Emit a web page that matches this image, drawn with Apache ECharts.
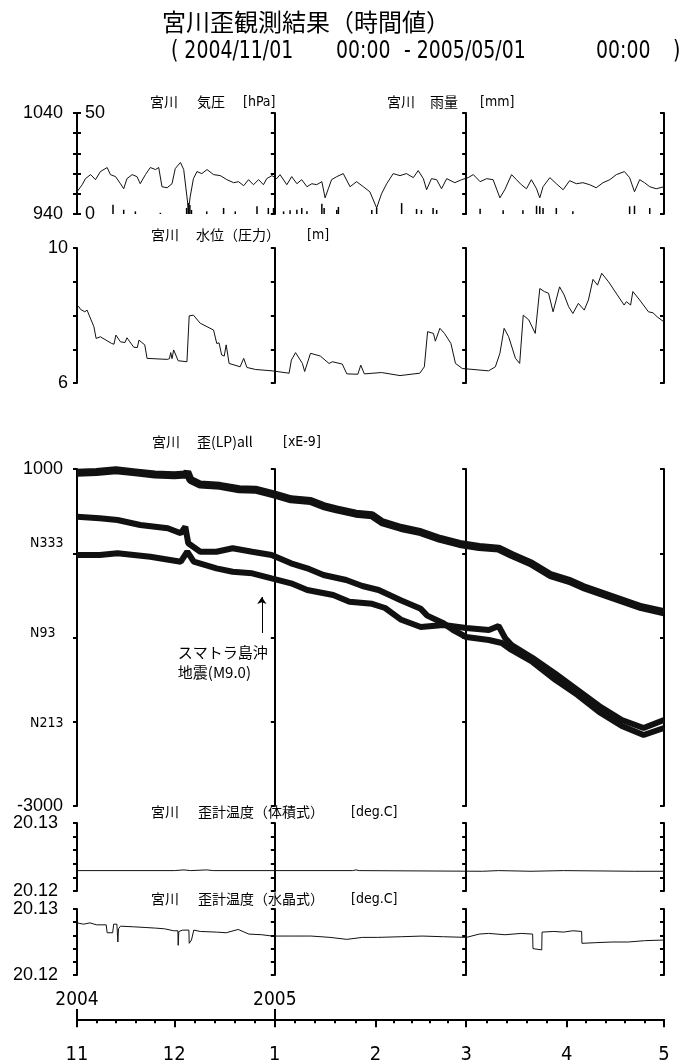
<!DOCTYPE html>
<html>
<head>
<meta charset="utf-8">
<script src="https://cdn.jsdelivr.net/npm/echarts@6/dist/echarts.min.js"></script>
<style>
  html, body { margin: 0; padding: 0; background: #fff; }
  #main { width: 697px; height: 1063px; }
</style>
</head>
<body>
<div id="main"></div>
<script>
// 日数は 2004/11/01 00:00 からの経過日
var pressure = [[0,962],[1.6,969],[2.6,975],[4.2,979],[5.7,974],[7.2,982],[9.3,986],[10.3,979],[11.9,977],[13.4,970],[14.4,965],[15.4,975],[17,979],[18.5,977],[19.5,970],[21.1,979],[22.6,986],[24.2,984],[25.2,986],[26.2,967],[27.8,966],[29.3,970],[30.3,985],[31.9,991],[32.9,984],[33.9,957],[34.4,944],[34.9,957],[35.9,975],[37,982],[38.5,980],[40.1,984],[42.1,979],[44.2,978],[46.2,974],[48.3,971],[49.8,972],[51.4,968],[52.9,974],[54.4,969],[56,974],[57.5,969],[58.5,975],[60.1,978],[61.6,975],[62.6,979],[64.7,969],[66.2,977],[67.8,970],[69.3,974],[70.9,967],[72.4,970],[73.9,969],[75.5,972],[76.5,956],[77.5,965],[78.5,974],[80.1,977],[82.1,980],[84.2,967],[86.2,972],[88.3,967],[90.3,962],[92.4,946],[93.9,960],[95.5,970],[97.5,980],[99.6,978],[101.6,980],[103.7,976],[105.2,983],[106.8,975],[107.8,964],[109.3,975],[110.9,974],[112.4,965],[114,975],[116.5,971],[118.6,974],[120.6,976],[122.2,979],[124.3,972],[126.3,975],[128.3,974],[130.4,956],[131.9,964],[134,979],[135.5,974],[137,969],[138.6,965],[140.1,974],[141.7,965],[142.7,956],[143.7,967],[145.8,976],[147.8,970],[149.9,964],[151.9,973],[154,970],[156,971],[158.1,969],[160.1,966],[162.2,971],[164.3,974],[166.3,979],[168.8,982],[170.4,976],[171.9,962],[173.5,974],[175,971],[176.6,967],[178.6,965],[181,967]];

var rainfall = [[11.1,4.6],[14.4,2.1],[18,1.3],[25.7,0.6],[33.8,3],[34.3,5.5],[34.8,4.5],[35.3,2],[40,1.3],[45.2,3],[48.8,1.3],[55.5,3.8],[59,3],[60.6,3],[63.7,1.3],[65.7,1.8],[67.8,2.1],[69.3,3],[70.9,1.3],[75.5,5.1],[76.2,3],[80.1,2],[80.6,3.5],[90.9,2],[92.4,3],[100.1,5.4],[104.7,2.5],[106.2,2],[109.8,3],[110.9,2],[124.3,2.6],[131.4,1.8],[137.5,1.8],[141.7,4.1],[142.7,3.8],[143.7,3],[147.8,3],[152.9,1.3],[170.4,3.8],[171.9,4.1],[176.6,3]];

var waterLevel = [[0.4,8.28],[1.1,8.18],[2.4,8.11],[3.1,8.16],[5.2,7.67],[5.9,7.32],[7.2,7.37],[10.7,7.17],[11.4,7.15],[12,7.42],[13.4,7.22],[14.8,7.2],[15.4,7.34],[17.5,7.06],[18.6,7.05],[19.1,7.27],[20.9,7.13],[21.6,6.73],[27.8,6.70],[28.5,6.72],[28.9,6.90],[29.3,6.72],[29.8,6.98],[31.2,6.66],[33.9,6.63],[34.6,7.99],[35.9,8.01],[38,7.77],[42.1,7.57],[43.1,7.17],[43.8,7.19],[44.6,6.83],[45.4,6.8],[46,7.13],[46.9,6.58],[50.3,6.48],[51.4,6.73],[52.4,6.46],[55.1,6.40],[60.2,6.36],[65.4,6.29],[66.1,6.68],[67.4,6.90],[69.5,6.58],[70.2,6.34],[72,6.88],[75,6.80],[77.7,6.58],[78.8,6.63],[81.8,6.56],[83.2,6.27],[86.6,6.26],[87.5,6.53],[88.6,6.27],[93.9,6.31],[94.4,6.27],[99.6,6.22],[105.7,6.29],[107.1,6.48],[108.1,7.52],[109.9,7.47],[110.5,7.24],[111.9,7.62],[113.3,7.47],[115.3,7.17],[116.7,6.58],[118.8,6.43],[126.9,6.36],[129,6.48],[130.4,6.88],[131.7,7.62],[133.1,7.37],[135.2,6.73],[136.5,6.58],[137.6,8.01],[139.3,7.87],[141.3,7.47],[142.7,8.80],[144.1,8.71],[145.4,8.66],[146.8,8.11],[148.8,8.85],[150.2,8.61],[151.6,8.26],[152.9,8.06],[154.6,8.36],[156.4,8.16],[157.7,8.46],[159.1,9.07],[160.5,8.90],[161.8,9.25],[163.9,9.00],[166.6,8.61],[168.7,8.31],[169.4,8.41],[170.7,8.31],[171.4,8.71],[173.5,8.46],[176.2,8.11],[177.6,8.08],[178.9,7.96],[181,7.81]];

// 歪 3成分
var strainA = [[0,955],[6,965],[12,985],[18,960],[24,935],[30,925],[33.5,935],[34,965],[35,870],[38,815],[44,800],[50,760],[55,755],[61,695],[66,640],[72,620],[76,560],[80,520],[86,470],[91,450],[94,370],[100,300],[106,250],[112,170],[118,110],[124,75],[130,55],[134,-20],[140,-120],[146,-260],[152,-330],[156,-400],[162,-480],[168,-560],[174,-640],[181,-700]];
var strainB = [[0,434],[7,415],[12.5,395],[19.5,335],[28,296],[32,237],[33.4,315],[34.3,118],[38,18],[43,18],[48,59],[54,18],[60,-21],[66,-120],[71,-179],[76,-258],[83,-318],[88,-389],[93,-436],[100,-560],[106,-660],[108,-740],[113,-830],[116,-911],[120,-994],[127,-1030],[131,-1065],[134,-1148],[140.5,-1291],[147.6,-1505],[154.4,-1683],[161,-1884],[168,-2051],[174.7,-2157],[181,-2074]];
var strainC = [[0,-21],[7,-21],[12.5,0],[22.6,-41],[32,-100],[34,18],[36,-100],[43,-179],[48,-219],[54,-238],[60,-298],[66,-357],[71,-436],[79,-496],[84,-575],[91,-600],[95,-650],[100,-790],[106,-875],[113,-852],[120,-887],[127,-911],[130,-864],[132,-1006],[134,-1089],[140.5,-1243],[147.6,-1433],[154.4,-1624],[161,-1813],[168,-1979],[174.7,-2074],[181,-1979]];

var tempVolume = [[0,20.1230],[30,20.1230],[33,20.1231],[35,20.1230],[40,20.1231],[42,20.1230],[85,20.1230],[86,20.1231],[87,20.1230],[125,20.1229],[130,20.1230],[140,20.1229],[150,20.1230],[172,20.1229],[181,20.1229]];
var tempQuartz = [[0,20.1279],[2,20.1277],[4,20.1279],[6,20.1276],[9,20.1276],[9.3,20.1264],[11,20.1264],[11.3,20.1277],[12.3,20.1277],[12.6,20.1250],[12.8,20.1270],[13.4,20.1274],[17.5,20.1273],[21,20.1272],[24.3,20.1271],[27,20.1270],[29.8,20.1267],[31.1,20.1267],[31.2,20.1245],[31.4,20.1266],[32.6,20.1268],[34.5,20.1268],[34.6,20.1248],[35.3,20.1253],[36,20.1268],[38,20.1266],[43,20.1265],[46,20.1264],[49.7,20.1269],[53,20.1262],[57,20.1261],[60.2,20.1259],[66,20.1259],[72.2,20.1259],[78,20.1257],[83.2,20.1254],[88,20.1257],[92.7,20.1257],[100,20.1258],[106.4,20.1259],[113,20.1258],[120.1,20.1257],[124,20.1262],[126.9,20.1263],[132,20.1261],[137,20.1263],[140.5,20.1262],[140.6,20.1240],[143.3,20.1238],[143.4,20.1265],[147,20.1266],[150,20.1265],[152.9,20.1267],[155.6,20.1266],[155.7,20.1248],[160,20.1249],[165,20.1250],[170,20.1250],[175,20.1252],[181,20.1253]];

var monthDays = [0, 30, 61, 92, 120, 151, 181];
var monthLabels = ['11', '12', '1', '2', '3', '4', '5'];
var yearDays = [0, 61];
var yearLabels = ['2004', '2005'];
var minorDays = [6,12,18,24,36.2,42.4,48.6,54.8,67.2,73.4,79.6,85.8,97.6,103.2,108.8,114.4,126.2,132.4,138.6,144.8,157,163,169,175];
var dividerDays = [61, 120];
var strainTicks = [1000, 0, -1000, -2000, -3000];
var strainTickLabels = ['1000', 'N333', 'N93', 'N213', '-3000'];
// スマトラ島沖地震の矢印 [日, 下端, 上端]
var quakeMark = [57, -947, -519];

var LEFT = 77, WIDTH = 587, SPAN = 181;
var COND = '"DejaVu Sans Condensed", "Liberation Sans Narrow", "DejaVu Sans", sans-serif';
var NUM = '"Liberation Sans", Arial, sans-serif';
var JP = '"Noto Sans CJK JP", "Noto Sans CJK SC", sans-serif';

var myChart = echarts.init(document.getElementById('main'));

var panels = [
    { top: 113, height: 101 },
    { top: 248, height: 135 },
    { top: 469, height: 337 },
    { top: 823, height: 68 },
    { top: 909, height: 66 }
];

var grids = panels.map(function (p) {
    return { left: LEFT, width: WIDTH, top: p.top, height: p.height };
});
grids.push({ left: LEFT, width: WIDTH, top: 1019, height: 1 });

function minMaxLabel(min, max, digits, margin) {
    return {
        show: true, margin: margin, fontSize: 18, fontFamily: NUM, color: '#000',
        formatter: function (v) {
            if (Math.abs(v - max) < 1e-7 || Math.abs(v - min) < 1e-7) return v.toFixed(digits);
            return '';
        }
    };
}

//1パネル分の縦軸: 左軸 + 1月,3月の区切り + 右端
function panelAxes(gi, min, max, interval, label) {
    var line = { show: true, onZero: false, lineStyle: { color: '#000', width: 2 } };
    var tick = { show: true, length: 4, lineStyle: { color: '#000', width: 2 } };
    var base = {
        gridIndex: gi, type: 'value', min: min, max: max, interval: interval,
        axisLine: line, axisTick: tick, splitLine: { show: false }, axisLabel: { show: false }
    };
    var axes = [Object.assign({}, base, { position: 'left', axisLabel: label })];
    dividerDays.forEach(function (d) {
        axes.push(Object.assign({}, base, { position: 'left', offset: -WIDTH * d / SPAN }));
    });
    axes.push(Object.assign({}, base, {
        position: 'right',
        axisTick: { show: true, inside: true, length: 4, lineStyle: { color: '#000', width: 2 } }
    }));
    return axes;
}

var yAxes = [];
// 気圧
yAxes = yAxes.concat(panelAxes(0, 940, 1040, 20, minMaxLabel(940, 1040, 0, 14)));
// 雨量 (同じ位置, 内側ラベル)
yAxes.splice(1, 0, {
    gridIndex: 0, type: 'value', min: 0, max: 50, interval: 10, position: 'left',
    axisLine: { show: false, onZero: false },
    axisTick: { show: true, inside: true, length: 4, lineStyle: { color: '#000', width: 2 } },
    splitLine: { show: false },
    axisLabel: Object.assign(minMaxLabel(0, 50, 0, 8), { inside: true })
});
yAxes = yAxes.concat(panelAxes(1, 6, 10, 1, minMaxLabel(6, 10, 0, 9)));
yAxes = yAxes.concat(panelAxes(2, -3000, 1000, 1000, {
    show: true, margin: 14, color: '#000',
    formatter: function (v) {
        var i = strainTicks.indexOf(v);
        if (i < 0) return '';
        if (i === 0 || i === 4) return '{big|' + strainTickLabels[i] + '}';
        return '{n' + i + '|' + strainTickLabels[i] + '}';
    },
    rich: {
        big: { fontSize: 18, fontFamily: NUM, color: '#000' },
        n1: { fontSize: 14, fontFamily: COND, color: '#000', width: 33, align: 'left', padding: [0, 0, 19, 0] },
        n2: { fontSize: 14, fontFamily: COND, color: '#000', width: 33, align: 'left', padding: [0, 0, 8, 0] },
        n3: { fontSize: 14, fontFamily: COND, color: '#000', width: 33, align: 'left', padding: [4, 0, 0, 0] }
    }
}));
yAxes = yAxes.concat(panelAxes(3, 20.12, 20.13, 0.002, minMaxLabel(20.12, 20.13, 2, 19)));
yAxes = yAxes.concat(panelAxes(4, 20.12, 20.13, 0.002, minMaxLabel(20.12, 20.13, 2, 19)));
yAxes.push({ gridIndex: 5, type: 'value', show: false });

var xAxes = [0, 1, 2, 3, 4].map(function (gi) {
    return { gridIndex: gi, type: 'value', min: 0, max: SPAN, show: false };
});
// 下の時間軸
xAxes.push({
    gridIndex: 5, type: 'value', min: 0, max: SPAN, position: 'bottom',
    axisLine: { show: true, onZero: false, lineStyle: { color: '#000', width: 2 } },
    axisTick: { show: true, customValues: monthDays, length: 8, lineStyle: { color: '#000', width: 2 } },
    axisLabel: {
        show: true, customValues: monthDays, margin: 26, fontSize: 20, fontFamily: COND, color: '#000',
        formatter: function (v) { return monthLabels[monthDays.indexOf(v)]; }
    },
    splitLine: { show: false }
});
xAxes.push({
    gridIndex: 5, type: 'value', min: 0, max: SPAN, position: 'top',
    axisLine: { show: false, onZero: false },
    axisTick: { show: true, customValues: yearDays, length: 10, lineStyle: { color: '#000', width: 2 } },
    axisLabel: {
        show: true, customValues: yearDays, margin: 9, fontSize: 19, fontFamily: COND, color: '#000',
        formatter: function (v) { return yearLabels[yearDays.indexOf(v)]; }
    },
    splitLine: { show: false }
});
xAxes.push({
    gridIndex: 5, type: 'value', min: 0, max: SPAN, position: 'bottom',
    axisLine: { show: false, onZero: false },
    axisTick: { show: true, customValues: minorDays, length: 4, lineStyle: { color: '#000', width: 2 } },
    axisLabel: { show: false },
    splitLine: { show: false }
});

function lineSeries(name, data, xi, yi, width) {
    return {
        name: name, type: 'line', data: data, xAxisIndex: xi, yAxisIndex: yi,
        showSymbol: false, symbol: 'none', silent: true,
        lineStyle: { color: '#111', width: width }
    };
}

var strainSeriesA = lineSeries('strainA', strainA, 2, 10, 8);
strainSeriesA.markLine = {
    silent: true, symbol: ['none', 'arrow'], symbolSize: 7,
    lineStyle: { color: '#000', width: 1, type: 'solid' },
    label: { show: false },
    data: [[{ coord: [quakeMark[0], quakeMark[1]] }, { coord: [quakeMark[0], quakeMark[2]] }]]
};
strainSeriesA.markPoint = {
    silent: true, symbol: 'circle', symbolSize: 0,
    data: [{ coord: [quakeMark[0], quakeMark[1]] }],
    label: {
        show: true, position: 'bottom', distance: 9, align: 'left', offset: [-84, 0],
        formatter: 'スマトラ島沖\n地震(M9.0)', fontSize: 15, lineHeight: 20,
        fontFamily: JP, color: '#000'
    }
};

//見出しテキスト
var texts = [
    ['宮川', 150, 102], ['気圧', 197, 102], ['[hPa]', 243, 102],
    ['宮川', 387, 102], ['雨量', 430, 102], ['[mm]', 480, 102],
    ['宮川', 151, 235], ['水位（圧力）', 196, 235], ['[m]', 307, 235],
    ['宮川', 152, 442], ['歪(LP)all', 197, 442], ['[xE-9]', 283, 442],
    ['宮川', 151, 812], ['歪計温度（体積式）', 198, 812], ['[deg.C]', 351, 812],
    ['宮川', 151, 899], ['歪計温度（水晶式）', 198, 899], ['[deg.C]', 351, 899]
];
var graphics = texts.map(function (t) {
    return {
        type: 'text', x: t[1], y: t[2], silent: true,
        style: { text: t[0], fontSize: 14, fontFamily: /^[\[]/.test(t[0]) ? COND : JP, fill: '#000', align: 'left', verticalAlign: 'middle' }
    };
});
graphics.push({
    type: 'text', x: 162, y: 22, silent: true,
    style: { text: '宮川歪観測結果（時間値）', fontSize: 24, fontFamily: JP, fill: '#000', align: 'left', verticalAlign: 'middle' }
});
[['( 2004/11/01', 171], ['00:00', 336], ['- 2005/05/01', 404], ['00:00', 596], [')', 673]].forEach(function (t) {
    graphics.push({
        type: 'text', x: t[1], y: 51, scaleY: 1.2, silent: true,
        style: { text: t[0], fontSize: 21, fontFamily: COND, fill: '#000', align: 'left', verticalAlign: 'middle' }
    });
});

var option = {
    backgroundColor: '#fff',
    animation: false,
    grid: grids,
    xAxis: xAxes,
    yAxis: yAxes,
    graphic: graphics,
    series: [
        lineSeries('pressure', pressure, 0, 0, 1),
        {
            name: 'rain', type: 'bar', data: rainfall, xAxisIndex: 0, yAxisIndex: 1,
            barWidth: 1.5, silent: true, itemStyle: { color: '#000' }
        },
        lineSeries('water', waterLevel, 1, 6, 1),
        strainSeriesA,
        lineSeries('strainB', strainB, 2, 10, 6),
        lineSeries('strainC', strainC, 2, 10, 6),
        lineSeries('tempVolume', tempVolume, 3, 14, 1),
        lineSeries('tempQuartz', tempQuartz, 4, 18, 1)
    ]
};
myChart.setOption(option);
</script>
</body>
</html>
